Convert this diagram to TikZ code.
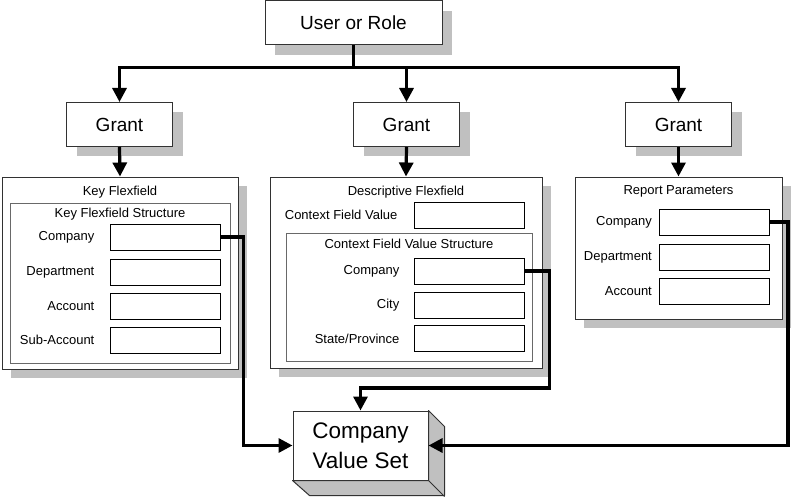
\documentclass[tikz,border=0pt]{standalone}
\usepackage{fontspec}
\setmainfont{Liberation Sans}
\usetikzlibrary{positioning,arrows.meta,shadows}
\definecolor{ShadowGray}{RGB}{192,192,192}
\definecolor{EdgeGray}{RGB}{50,50,50}
\definecolor{InnerGray}{RGB}{105,105,105}
\tikzset{
  flow/.style={-{Triangle[length=14pt,width=14pt]},line width=3.2pt,draw=black},
  topbox/.style={draw=EdgeGray,fill=white,line width=1pt,
    drop shadow={shadow xshift=10pt,shadow yshift=-10pt,fill=ShadowGray,opacity=1},
    font=\fontsize{19}{22}\selectfont},
  panel/.style={draw=EdgeGray,fill=white,line width=1pt,
    drop shadow={shadow xshift=9pt,shadow yshift=-9pt,fill=ShadowGray,opacity=1}},
  structbox/.style={draw=InnerGray,line width=1pt},
  fieldbox/.style={draw=black,fill=white,line width=0.9pt,
    minimum width=110pt,minimum height=26pt},
  fieldlabel/.style={inner sep=0pt,font=\fontsize{13}{15}\selectfont},
  paneltitle/.style={inner sep=0pt,font=\fontsize{13}{15}\selectfont},
  valuebox/.style={draw=EdgeGray,fill=white,line width=1pt,align=center,
    font=\fontsize{22.5}{30}\selectfont}
}
\begin{document}
\begin{tikzpicture}[x=1pt,y=-1pt]
  \useasboundingbox (0,0) rectangle (791,497);

  % top of the tree
  \node[topbox,minimum width=177pt,minimum height=44pt] (user) at (353.5,23) {User or Role};
  \node[topbox,minimum width=106pt,minimum height=44pt] (grantA) at (119.5,124.5) {Grant};
  \node[topbox,minimum width=106pt,minimum height=44pt] (grantB) at (406.5,124.5) {Grant};
  \node[topbox,minimum width=106pt,minimum height=44pt] (grantC) at (678.5,124.5) {Grant};
  \draw[flow] (user.south) -- ++(0,22) -| (grantA.north);
  \draw[flow] (user.south) -- ++(0,22) -| (grantB.north);
  \draw[flow] (user.south) -- ++(0,22) -| (grantC.north);

  % key flexfield
  \node[panel,minimum width=236pt,minimum height=192pt] (kf) at (120,273) {};
  \node[paneltitle,below=9pt of kf.north] (kfTitle) {Key Flexfield};
  \node[structbox,minimum width=220pt,minimum height=160pt] (kfs) at (120,283) {};
  \node[paneltitle,below=5pt of kfs.north] (kfsTitle) {Key Flexfield Structure};
  \node[fieldbox] (kfCo) at (165,237) {};
  \node[fieldbox] (kfDept) at (165,272) {};
  \node[fieldbox] (kfAcct) at (165,306) {};
  \node[fieldbox] (kfSub) at (165,340) {};
  \node[fieldlabel,left=15pt of kfCo] {Company};
  \node[fieldlabel,left=15pt of kfDept] {Department};
  \node[fieldlabel,left=15pt of kfAcct] {Account};
  \node[fieldlabel,left=15pt of kfSub] {Sub-Account};

  % descriptive flexfield
  \node[panel,minimum width=272pt,minimum height=191pt] (df) at (406,272.5) {};
  \node[paneltitle,below=9pt of df.north] (dfTitle) {Descriptive Flexfield};
  \node[fieldbox] (dfCtx) at (469,215) {};
  \node[fieldlabel,left=16pt of dfCtx] {Context Field Value};
  \node[structbox,minimum width=246pt,minimum height=128pt] (dfs) at (409,297) {};
  \node[paneltitle,below=6pt of dfs.north] (dfsTitle) {Context Field Value Structure};
  \node[fieldbox] (dfCo) at (469,271) {};
  \node[fieldbox] (dfCity) at (469,305) {};
  \node[fieldbox] (dfState) at (469,338.5) {};
  \node[fieldlabel,left=14pt of dfCo] {Company};
  \node[fieldlabel,left=14pt of dfCity] {City};
  \node[fieldlabel,left=14pt of dfState] {State/Province};

  % report parameters
  \node[panel,minimum width=207pt,minimum height=142pt] (rp) at (678.5,248) {};
  \node[paneltitle,below=9pt of rp.north] (rpTitle) {Report Parameters};
  \node[fieldbox] (rpCo) at (714.5,222) {};
  \node[fieldbox] (rpDept) at (714.5,257) {};
  \node[fieldbox] (rpAcct) at (714.5,291) {};
  \node[fieldlabel,left=7pt of rpCo] {Company};
  \node[fieldlabel,left=7pt of rpDept] {Department};
  \node[fieldlabel,left=7pt of rpAcct] {Account};

  \draw[flow] (grantA.south) -- (kf.north);
  \draw[flow] (grantB.south) -- (df.north);
  \draw[flow] (grantC.south) -- (rp.north);

  % value set block
  \node[valuebox,minimum width=135pt,minimum height=69pt] (vs) at (360.5,445.5) {Company\\Value Set};
  \draw[draw=EdgeGray,fill=ShadowGray,line width=1pt,line join=round]
    (vs.north east) -- ++(16,16) -- ++(0,69) -- ++(-135,0) -- (vs.south west)
    -- (vs.south east) -- cycle;
  \draw[draw=EdgeGray,line width=1pt] (vs.south east) -- ++(16,16);

  \draw[flow] (kfCo.east) -- ++(23,0) |- (vs.west);
  \draw[flow] (dfCo.east) -- ++(25,0) -- ++(0,117) -| (vs.north);
  \draw[flow] (rpCo.east) -- ++(18,0) |- (vs.east);
\end{tikzpicture}
\end{document}
